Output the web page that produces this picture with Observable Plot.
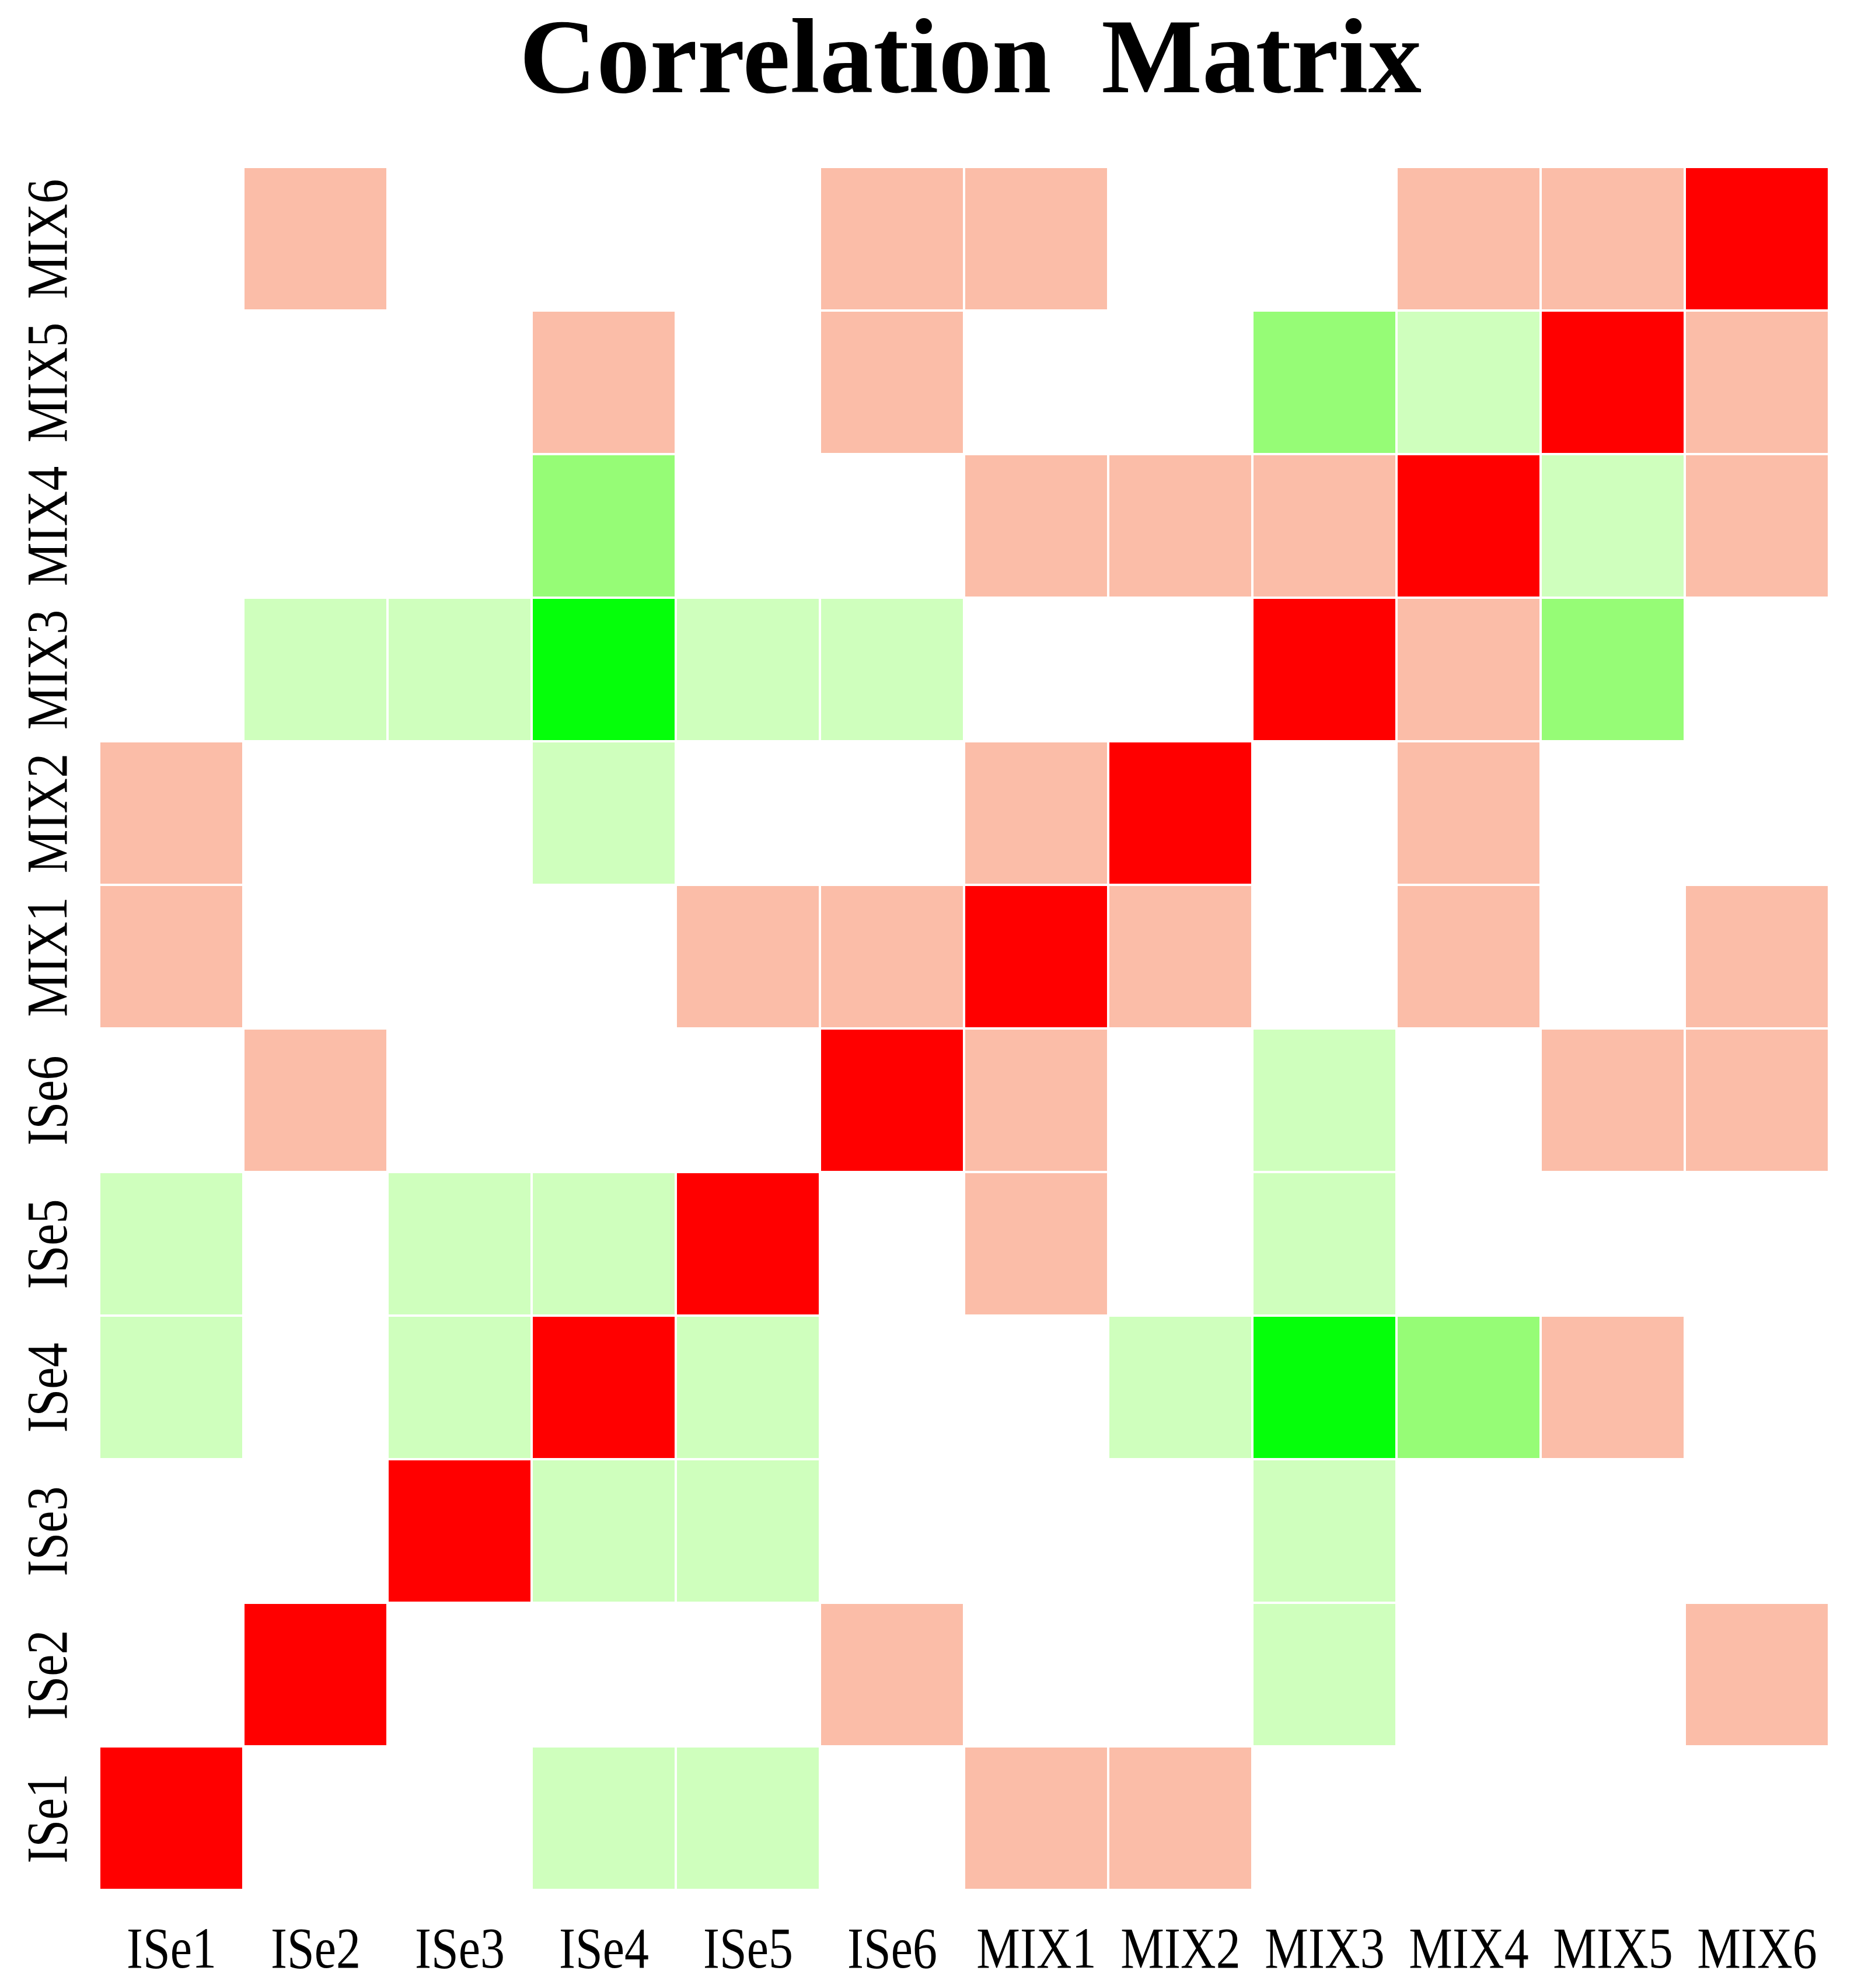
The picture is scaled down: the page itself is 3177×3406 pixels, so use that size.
<!DOCTYPE html>
<html>
<head>
<meta charset="utf-8">
<script src="https://cdn.jsdelivr.net/npm/d3@7"></script>
<script src="https://cdn.jsdelivr.net/npm/@observablehq/plot@0.6"></script>
<style>
  html, body { margin: 0; padding: 0; background: #fff; }
  #wrap { width: 3177px; }
  #title { position: relative; height: 270px; width: 3177px; }
  #title span {
    position: absolute; left: 1663px; top: 5px; transform: translateX(-50%);
    font-family: "Liberation Serif", "Times New Roman", serif; font-weight: bold;
    font-size: 183px; line-height: 1; white-space: pre; word-spacing: 40px; color: #000;
  }
</style>
</head>
<body>
<div id="wrap">
  <div id="title"><span>Correlation Matrix</span></div>
  <div id="chart"></div>
</div>
<script>
// Variables (column order, left to right; row order bottom to top)
const variables = ["ISe1","ISe2","ISe3","ISe4","ISe5","ISe6","MIX1","MIX2","MIX3","MIX4","MIX5","MIX6"];

// Correlation class per cell. Codes:
// "R" = strong positive (diagonal), "S" = positive, "0" = not significant,
// "LG" = weak negative, "MG" = moderate negative, "BG" = strong negative
const classes = ["R", "S", "0", "LG", "MG", "BG"];
const classColors = ["#ff0000", "#fbbda8", "#ffffff", "#cfffbd", "#96fc76", "#05ff0a"];

// Rows listed by row variable; entries follow the column order of `variables`
const rowISe1 = ["R","0","0","LG","LG","0","S","S","0","0","0","0"];
const rowISe2 = ["0","R","0","0","0","S","0","0","LG","0","0","S"];
const rowISe3 = ["0","0","R","LG","LG","0","0","0","LG","0","0","0"];
const rowISe4 = ["LG","0","LG","R","LG","0","0","LG","BG","MG","S","0"];
const rowISe5 = ["LG","0","LG","LG","R","0","S","0","LG","0","0","0"];
const rowISe6 = ["0","S","0","0","0","R","S","0","LG","0","S","S"];
const rowMIX1 = ["S","0","0","0","S","S","R","S","0","S","0","S"];
const rowMIX2 = ["S","0","0","LG","0","0","S","R","0","S","0","0"];
const rowMIX3 = ["0","LG","LG","BG","LG","LG","0","0","R","S","MG","0"];
const rowMIX4 = ["0","0","0","MG","0","0","S","S","S","R","LG","S"];
const rowMIX5 = ["0","0","0","S","0","S","0","0","MG","LG","R","S"];
const rowMIX6 = ["0","S","0","0","0","S","S","0","0","S","S","R"];

const rows = [rowISe1,rowISe2,rowISe3,rowISe4,rowISe5,rowISe6,rowMIX1,rowMIX2,rowMIX3,rowMIX4,rowMIX5,rowMIX6];

const cells = [];
rows.forEach((row, i) => row.forEach((c, j) => {
  cells.push({row: variables[i], col: variables[j], cls: c});
}));

const plot = Plot.plot({
  width: 3177,
  height: 3136,
  marginTop: 12,
  marginBottom: 164,
  marginLeft: 169,
  marginRight: 43,
  style: { fontFamily: "'Liberation Serif', 'Times New Roman', serif", background: "#fff" },
  x: { domain: variables, padding: 0, label: null },
  y: { domain: [...variables].reverse(), padding: 0, label: null },
  color: { type: "ordinal", domain: classes, range: classColors },
  marks: [
    Plot.cell(cells, { x: "col", y: "row", fill: "cls", inset: 2 }),
    Plot.axisX({ tickSize: 0, tickPadding: 57, fontSize: 100, label: null }),
    Plot.axisY({ tickSize: 0, tickPadding: 56, fontSize: 100, label: null, tickRotate: -90, textAnchor: "middle" })
  ]
});

// Condense the tick-label glyphs horizontally (along the reading direction), like the reference typeface
plot.querySelectorAll('g[aria-label$="tick label"] text').forEach(t => {
  const tr = t.getAttribute("transform");
  if (tr) {
    t.setAttribute("transform", tr + " scale(0.84,1)");
  } else {
    const x = +t.getAttribute("x") || 0, y = +t.getAttribute("y") || 0;
    t.removeAttribute("x"); t.removeAttribute("y");
    t.setAttribute("transform", `translate(${x},${y}) scale(0.84,1)`);
  }
});

document.getElementById("chart").appendChild(plot);
</script>
</body>
</html>
